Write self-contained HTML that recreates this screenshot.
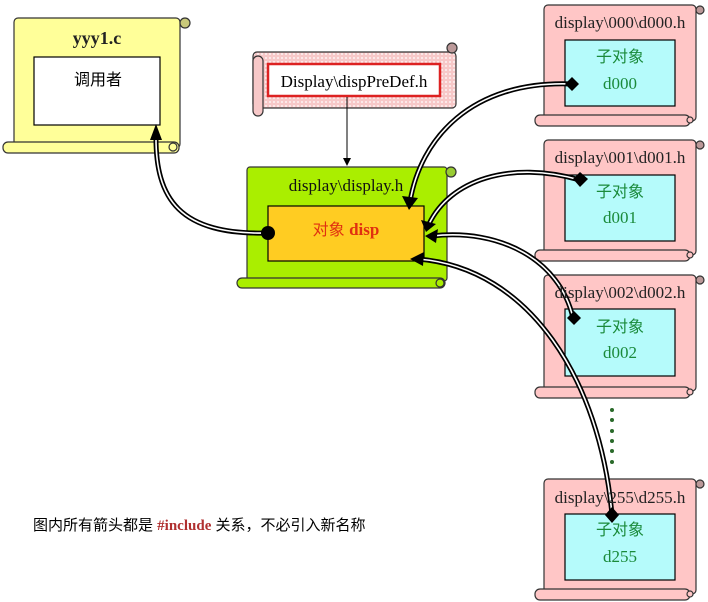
<!DOCTYPE html>
<html><head><meta charset="utf-8"><style>
body{margin:0;background:#fff;width:708px;height:602px;overflow:hidden}
svg{display:block}
.t{font-family:"Liberation Serif","Noto Serif CJK SC",serif;font-size:15px}
.c{font-family:"Liberation Sans","Noto Sans CJK SC",sans-serif}
</style></head><body>
<svg width="708" height="602" viewBox="0 0 708 602" xmlns="http://www.w3.org/2000/svg">
<defs>
<pattern id="dots" width="4" height="4" patternUnits="userSpaceOnUse"><rect width="4" height="4" fill="#f7c8c8"/><circle cx="2" cy="2" r="0.9" fill="#fff"/></pattern>
</defs>
<g stroke="#333" stroke-width="1.2">
<rect x="14" y="18" width="166" height="130" rx="4" fill="#ffff99"/>
<circle cx="185" cy="23" r="5" fill="#c9c97a"/>
<rect x="3" y="142" width="176" height="11" rx="5" fill="#ffff99"/>
<circle cx="173" cy="147" r="4" fill="#ffff99"/>
<rect x="34" y="57" width="126" height="68" fill="#fff" stroke="#000"/>
<rect x="253" y="52" width="203" height="56" rx="4" fill="url(#dots)"/>
<circle cx="452" cy="48" r="5" fill="#b99"/>
<rect x="253" y="56" width="10" height="60" rx="5" fill="#f7c8c8"/>
<rect x="268" y="64" width="172" height="32" fill="#fff" stroke="#d22" stroke-width="2.5"/>
<rect x="247" y="167" width="200" height="114" rx="3" fill="#aaee00"/>
<circle cx="451" cy="172" r="5" fill="#9c3"/>
<rect x="237" y="278" width="208" height="10" rx="5" fill="#aaee00"/>
<circle cx="440" cy="283" r="4" fill="#aaee00"/>
<rect x="268" y="206" width="156" height="55" fill="#ffcc22" stroke="#000"/>
</g>
<g stroke="#333" stroke-width="1.2">
<rect x="544" y="5" width="152" height="116" rx="4" fill="#ffc6c6"/><circle cx="700" cy="10" r="4" fill="#b99"/>
<rect x="535" y="115" width="155" height="11" rx="5" fill="#ffc6c6"/><circle cx="690" cy="120" r="3" fill="#ffc6c6"/>
<rect x="565" y="40" width="110" height="66" fill="#b5fbfb" stroke="#000"/>
<rect x="544" y="140" width="152" height="115" rx="4" fill="#ffc6c6"/><circle cx="700" cy="145" r="4" fill="#b99"/>
<rect x="535" y="250" width="155" height="11" rx="5" fill="#ffc6c6"/><circle cx="690" cy="255" r="3" fill="#ffc6c6"/>
<rect x="565" y="175" width="110" height="66" fill="#b5fbfb" stroke="#000"/>
<rect x="544" y="275" width="152" height="116" rx="4" fill="#ffc6c6"/><circle cx="700" cy="280" r="4" fill="#b99"/>
<rect x="535" y="387" width="155" height="11" rx="5" fill="#ffc6c6"/><circle cx="690" cy="392" r="3" fill="#ffc6c6"/>
<rect x="565" y="309" width="110" height="67" fill="#b5fbfb" stroke="#000"/>
<rect x="544" y="479" width="152" height="115" rx="4" fill="#ffc6c6"/><circle cx="700" cy="484" r="4" fill="#b99"/>
<rect x="535" y="589" width="155" height="11" rx="5" fill="#ffc6c6"/><circle cx="690" cy="594" r="3" fill="#ffc6c6"/>
<rect x="565" y="514" width="110" height="66" fill="#b5fbfb" stroke="#000"/>
</g>
<g fill="#2a6a2a"><circle cx="612" cy="410" r="2"/><circle cx="612" cy="420" r="2"/><circle cx="612" cy="431" r="2"/><circle cx="612" cy="441" r="2"/><circle cx="612" cy="451" r="2"/><circle cx="612" cy="462" r="2"/></g>
<line x1="347" y1="97" x2="347" y2="160" stroke="#000" stroke-width="1"/>
<polygon points="343,158 351,158 347,166" fill="#000"/>
<g fill="none" stroke="#000" stroke-width="5">
<path d="M572,84 C470,80 420,140 410,202"/>
<path d="M580,180 C510,160 450,180 429,224"/>
<path d="M573,318 C560,260 500,228 432,236"/>
<path d="M612,515 C600,380 530,268 418,259"/>
<path d="M268,233 C180,235 155,200 156,134"/>
</g>
<g fill="none" stroke="#fff" stroke-width="1.6">
<path d="M572,84 C470,80 420,140 410,202"/>
<path d="M580,180 C510,160 450,180 429,224"/>
<path d="M573,318 C560,260 500,228 432,236"/>
<path d="M612,515 C600,380 530,268 418,259"/>
<path d="M268,233 C180,235 155,200 156,134"/>
</g>
<g fill="#000">
<polygon points="402,196 418,198 409,210"/>
<polygon points="421,220 436,224 426,232"/>
<polygon points="425,236 438,229 436,243"/>
<polygon points="410,259 424,252 423,266"/>
<polygon points="156,124 150,140 162,140"/>
<circle cx="268" cy="233" r="7"/>
<polygon points="572,77 579,84 572,91 565,84"/>
<polygon points="580,172 588,179 580,187 573,179"/>
<polygon points="574,311 581,318 574,325 567,318"/>
<polygon points="612,507 619,515 612,523 605,515"/>
</g>
<g class="t">
<text x="97" y="44" text-anchor="middle" font-weight="bold" font-size="18" fill="#222">yyy1.c</text>
<text x="98" y="85" text-anchor="middle" class="c" font-size="16" fill="#000">调用者</text>
<text x="354" y="87" text-anchor="middle" font-size="17" fill="#000">Display\dispPreDef.h</text>
<text x="346" y="191" text-anchor="middle" font-size="17" fill="#111">display\display.h</text>
<text x="346" y="235" text-anchor="middle" font-size="17" fill="#e03010"><tspan class="c" font-size="16">对象 </tspan><tspan font-weight="bold">disp</tspan></text>
<g font-size="17" fill="#222" text-anchor="middle">
<text x="620" y="28">display\000\d000.h</text>
<text x="620" y="163">display\001\d001.h</text>
<text x="620" y="298">display\002\d002.h</text>
<text x="620" y="503">display\255\d255.h</text>
</g>
<g fill="#1a8a3a" text-anchor="middle" font-size="17">
<text x="620" y="62" class="c" font-size="16">子对象</text><text x="620" y="89">d000</text>
<text x="620" y="197" class="c" font-size="16">子对象</text><text x="620" y="223">d001</text>
<text x="620" y="332" class="c" font-size="16">子对象</text><text x="620" y="358">d002</text>
<text x="620" y="535" class="c" font-size="16">子对象</text><text x="620" y="562">d255</text>
</g>
<text x="33" y="530" class="c" font-size="15" fill="#000">图内所有箭头都是 <tspan font-family="Liberation Serif" font-weight="bold" fill="#b03030">#include</tspan> 关系，不必引入新名称</text>
</g>
</svg>
</body></html>
